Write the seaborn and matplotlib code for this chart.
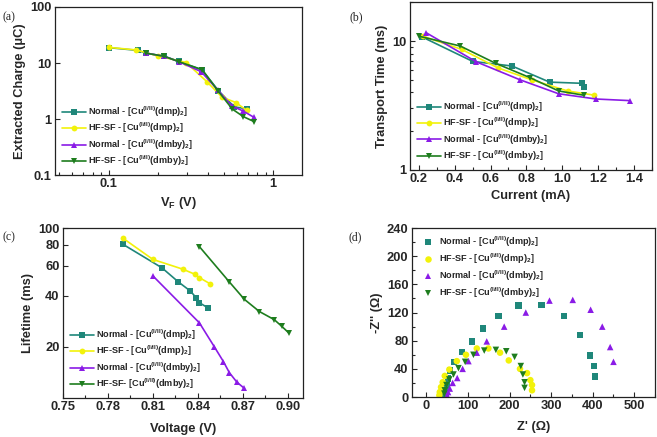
import numpy as np
import pandas as pd
import seaborn as sns
import matplotlib.pyplot as plt
from matplotlib.ticker import FuncFormatter, NullFormatter, NullLocator, MultipleLocator

LABELS = [r'Normal - [Cu$^{(I/II)}$(dmp)$_2$]',
          r'HF-SF - [Cu$^{(I/II)}$(dmp)$_2$]',
          r'Normal - [Cu$^{(I/II)}$(dmby)$_2$]',
          r'HF-SF - [Cu$^{(I/II)}$(dmby)$_2$]']
COLORS = ['#1f877a', '#f2f20a', '#8a1be6', '#1e7d1e']
MARKERS = ['s', 'o', '^', 'v']

# (a) extracted charge vs V_F
a_x = [[0.10, 0.15, 0.168, 0.217, 0.266, 0.37, 0.465, 0.58, 0.69],
       [0.10, 0.147, 0.198, 0.295, 0.395, 0.49, 0.594, 0.69],
       [0.168, 0.217, 0.266, 0.365, 0.46, 0.56, 0.66, 0.765],
       [0.168, 0.217, 0.266, 0.37, 0.465, 0.565, 0.66, 0.765]]
a_y = [[18.8, 16.8, 15.0, 13.2, 10.7, 7.5, 3.2, 1.65, 1.52],
       [19.0, 17.1, 13.4, 10.2, 4.65, 2.44, 1.97, 1.42],
       [15.0, 13.2, 10.6, 7.0, 3.3, 1.72, 1.38, 1.07],
       [15.0, 13.2, 10.6, 7.6, 3.1, 1.5, 1.1, 0.9]]

# (b) transport time vs current
b_x = [[0.215, 0.5, 0.72, 0.93, 1.11, 1.12],
       [0.22, 0.44, 0.64, 0.83, 1.03, 1.18],
       [0.24, 0.52, 0.765, 0.98, 1.19, 1.38],
       [0.20, 0.43, 0.63, 0.82, 0.98, 1.12]]
b_y = [[10.8, 6.95, 6.4, 4.8, 4.7, 4.4],
       [10.9, 8.6, 6.2, 5.0, 4.1, 3.8],
       [11.6, 6.9, 5.0, 3.9, 3.55, 3.45],
       [10.9, 9.15, 6.7, 5.2, 4.1, 3.8]]

# (c) lifetime vs voltage
c_x = [[0.790, 0.816, 0.827, 0.835, 0.839, 0.841, 0.847],
       [0.790, 0.810, 0.830, 0.838, 0.841, 0.848],
       [0.810, 0.841, 0.851, 0.857, 0.861, 0.866, 0.871],
       [0.841, 0.861, 0.871, 0.881, 0.891, 0.896, 0.901]]
c_y = [[80.3, 58.4, 48.2, 42.6, 38.8, 36.4, 33.8],
       [87.2, 65.4, 57.3, 53.5, 51.1, 47.1],
       [52.3, 27.7, 20.0, 16.4, 14.1, 12.4, 11.4],
       [77.8, 48.2, 38.1, 32.3, 28.9, 26.4, 24.0]]

# (d) Nyquist plot
d_x = [[45, 46, 47, 48, 52, 57, 66, 86, 109, 136, 173, 222, 277, 331, 369, 394, 403, 406],
       [31, 32, 35, 39, 44, 55, 73, 95, 121, 149, 177, 198, 225, 242, 250, 254, 254],
       [50, 52, 56, 63, 74, 87, 101, 121, 145, 187, 239, 296, 352, 395, 423, 442, 450],
       [43, 44, 48, 55, 65, 77, 93, 113, 139, 167, 192, 212, 227, 232, 236, 236]]
d_y = [[1.5, 5, 12, 19, 26, 38, 50, 64, 79, 97, 115, 130, 131, 115, 88, 59, 44, 29],
       [2.4, 7, 14, 21, 30, 39, 51, 60, 69, 69, 63, 52, 40, 34, 24, 17, 9.5],
       [2, 7, 12, 20, 27, 40, 51, 63, 79, 100, 120, 137, 138, 124, 100, 71, 50, 40],
       [4.8, 9.5, 17, 25, 32, 41, 50, 60, 66, 67, 65, 57, 44, 32, 21, 13]]


def long_frame(xs, ys):
    rows = []
    for lab, x, y in zip(LABELS, xs, ys):
        for i, (xi, yi) in enumerate(zip(x, y)):
            rows.append({'series': lab, 'x': xi, 'y': yi, 'order': i})
    return pd.DataFrame(rows)


def draw_lines(ax, xs, ys):
    df = long_frame(xs, ys)
    sns.lineplot(data=df, x='x', y='y', hue='series', style='series', hue_order=LABELS,
                 style_order=LABELS, palette=COLORS, markers=MARKERS, dashes=False,
                 sort=False, estimator=None, markersize=4.2, markeredgewidth=0,
                 linewidth=1.2, ax=ax)


def style_axes(ax):
    ax.tick_params(direction='in', which='both', top=False, right=False,
                   labelsize=9.3, width=0.8, pad=2.5)
    ax.tick_params(which='major', length=3.5)
    ax.tick_params(which='minor', length=2)
    for lab in ax.get_xticklabels() + ax.get_yticklabels():
        lab.set_fontweight('bold')
    for s in ax.spines.values():
        s.set_linewidth(0.9)
        s.set_color('#222222')


sns.set_theme(style='ticks')
plt.rcParams['font.family'] = ['Liberation Sans', 'DejaVu Sans']
plt.rcParams['font.weight'] = 'bold'
plt.rcParams['mathtext.fontset'] = 'custom'
plt.rcParams['mathtext.rm'] = 'Liberation Sans:bold'
plt.rcParams['mathtext.it'] = 'Liberation Sans:bold'
plt.rcParams['mathtext.bf'] = 'Liberation Sans:bold'
plt.rcParams['mathtext.default'] = 'regular'

fig = plt.figure(figsize=(6.57, 4.37), dpi=100)
ax_a = fig.add_axes([0.0837, 0.5995, 0.376, 0.3845])
ax_b = fig.add_axes([0.624, 0.611, 0.368, 0.384])
ax_c = fig.add_axes([0.0959, 0.0892, 0.365, 0.3888])
ax_d = fig.add_axes([0.627, 0.0915, 0.370, 0.3865])

LAB_FS = 9.3
leg_kw = dict(frameon=False, fontsize=6.6, handlelength=2.6, handletextpad=0.25,
              labelspacing=0.22, borderaxespad=0.35)

# (a)
draw_lines(ax_a, a_x, a_y)
ax_a.set_xscale('log')
ax_a.set_yscale('log')
ax_a.set_xlim(0.047, 1.5)
ax_a.set_ylim(0.1, 100)
fmt = FuncFormatter(lambda v, p: f'{v:g}')
ax_a.xaxis.set_major_formatter(fmt)
ax_a.yaxis.set_major_formatter(fmt)
ax_a.xaxis.set_minor_formatter(NullFormatter())
ax_a.yaxis.set_minor_locator(NullLocator())
ax_a.set_xlabel(r'V$_F$ (V)', fontsize=LAB_FS, fontweight='bold', labelpad=3)
ax_a.set_ylabel('Extracted Charge (μC)', fontsize=LAB_FS, fontweight='bold', labelpad=3)
ax_a.legend(loc='lower left', **leg_kw)

# (b)
draw_lines(ax_b, b_x, b_y)
ax_b.set_yscale('log')
ax_b.set_xlim(0.15, 1.5)
ax_b.set_ylim(1, 20)
ax_b.set_xticks([0.2, 0.4, 0.6, 0.8, 1.0, 1.2, 1.4])
ax_b.xaxis.set_minor_locator(MultipleLocator(0.1))
ax_b.yaxis.set_major_formatter(fmt)
ax_b.yaxis.set_minor_formatter(NullFormatter())
ax_b.set_xlabel('Current (mA)', fontsize=LAB_FS, fontweight='bold', labelpad=3)
ax_b.set_ylabel('Transport Time (ms)', fontsize=LAB_FS, fontweight='bold', labelpad=3)
ax_b.legend(loc='lower left', **leg_kw)

# (c)
draw_lines(ax_c, c_x, c_y)
ax_c.set_yscale('log')
ax_c.set_xlim(0.75, 0.91)
ax_c.set_ylim(10, 100)
ax_c.set_xticks([0.75, 0.78, 0.81, 0.84, 0.87, 0.90])
ax_c.xaxis.set_major_formatter(FuncFormatter(lambda v, p: f'{v:.2f}'))
ax_c.xaxis.set_minor_locator(MultipleLocator(0.015))
ax_c.set_yticks([20, 40, 60, 80, 100])
ax_c.yaxis.set_major_formatter(fmt)
ax_c.yaxis.set_minor_locator(NullLocator())
ax_c.set_xlabel('Voltage (V)', fontsize=LAB_FS, fontweight='bold', labelpad=7)
ax_c.set_ylabel('Lifetime (ms)', fontsize=LAB_FS, fontweight='bold', labelpad=3)
c_labels = LABELS[:3] + [r'HF-SF- [Cu$^{(I/II)}$(dmby)$_2$]']
handles, _ = ax_c.get_legend_handles_labels()
ax_c.legend(handles, c_labels, loc='lower left', **leg_kw)

# (d)
df_d = long_frame(d_x, d_y)
sns.scatterplot(data=df_d, x='x', y='y', hue='series', style='series', hue_order=LABELS,
                style_order=LABELS, palette=COLORS, markers=MARKERS, s=22,
                linewidth=0, ax=ax_d)
ax_d.set_xlim(-35, 550)
ax_d.set_ylim(0, 240)
ax_d.set_xticks([0, 100, 200, 300, 400, 500])
ax_d.xaxis.set_minor_locator(MultipleLocator(50))
ax_d.set_yticks([0, 40, 80, 120, 160, 200, 240])
ax_d.yaxis.set_minor_locator(MultipleLocator(20))
ax_d.set_xlabel("Z' (Ω)", fontsize=LAB_FS, fontweight='bold', labelpad=6)
ax_d.set_ylabel("-Z'' (Ω)", fontsize=LAB_FS, fontweight='bold', labelpad=3)
ax_d.legend(loc='upper left', frameon=False, fontsize=6.6, handletextpad=0.2,
            labelspacing=0.3, borderaxespad=0.3, markerscale=1.0)

for ax in (ax_a, ax_b, ax_c, ax_d):
    style_axes(ax)

for txt, x, y in [('(a)', 0.004, 0.975), ('(b)', 0.532, 0.975),
                  ('(c)', 0.004, 0.47), ('(d)', 0.53, 0.47)]:
    fig.text(x, y, txt, fontsize=8.5, fontweight='normal', family='Liberation Serif',
             va='top')

fig.savefig('out.png', dpi=100)
